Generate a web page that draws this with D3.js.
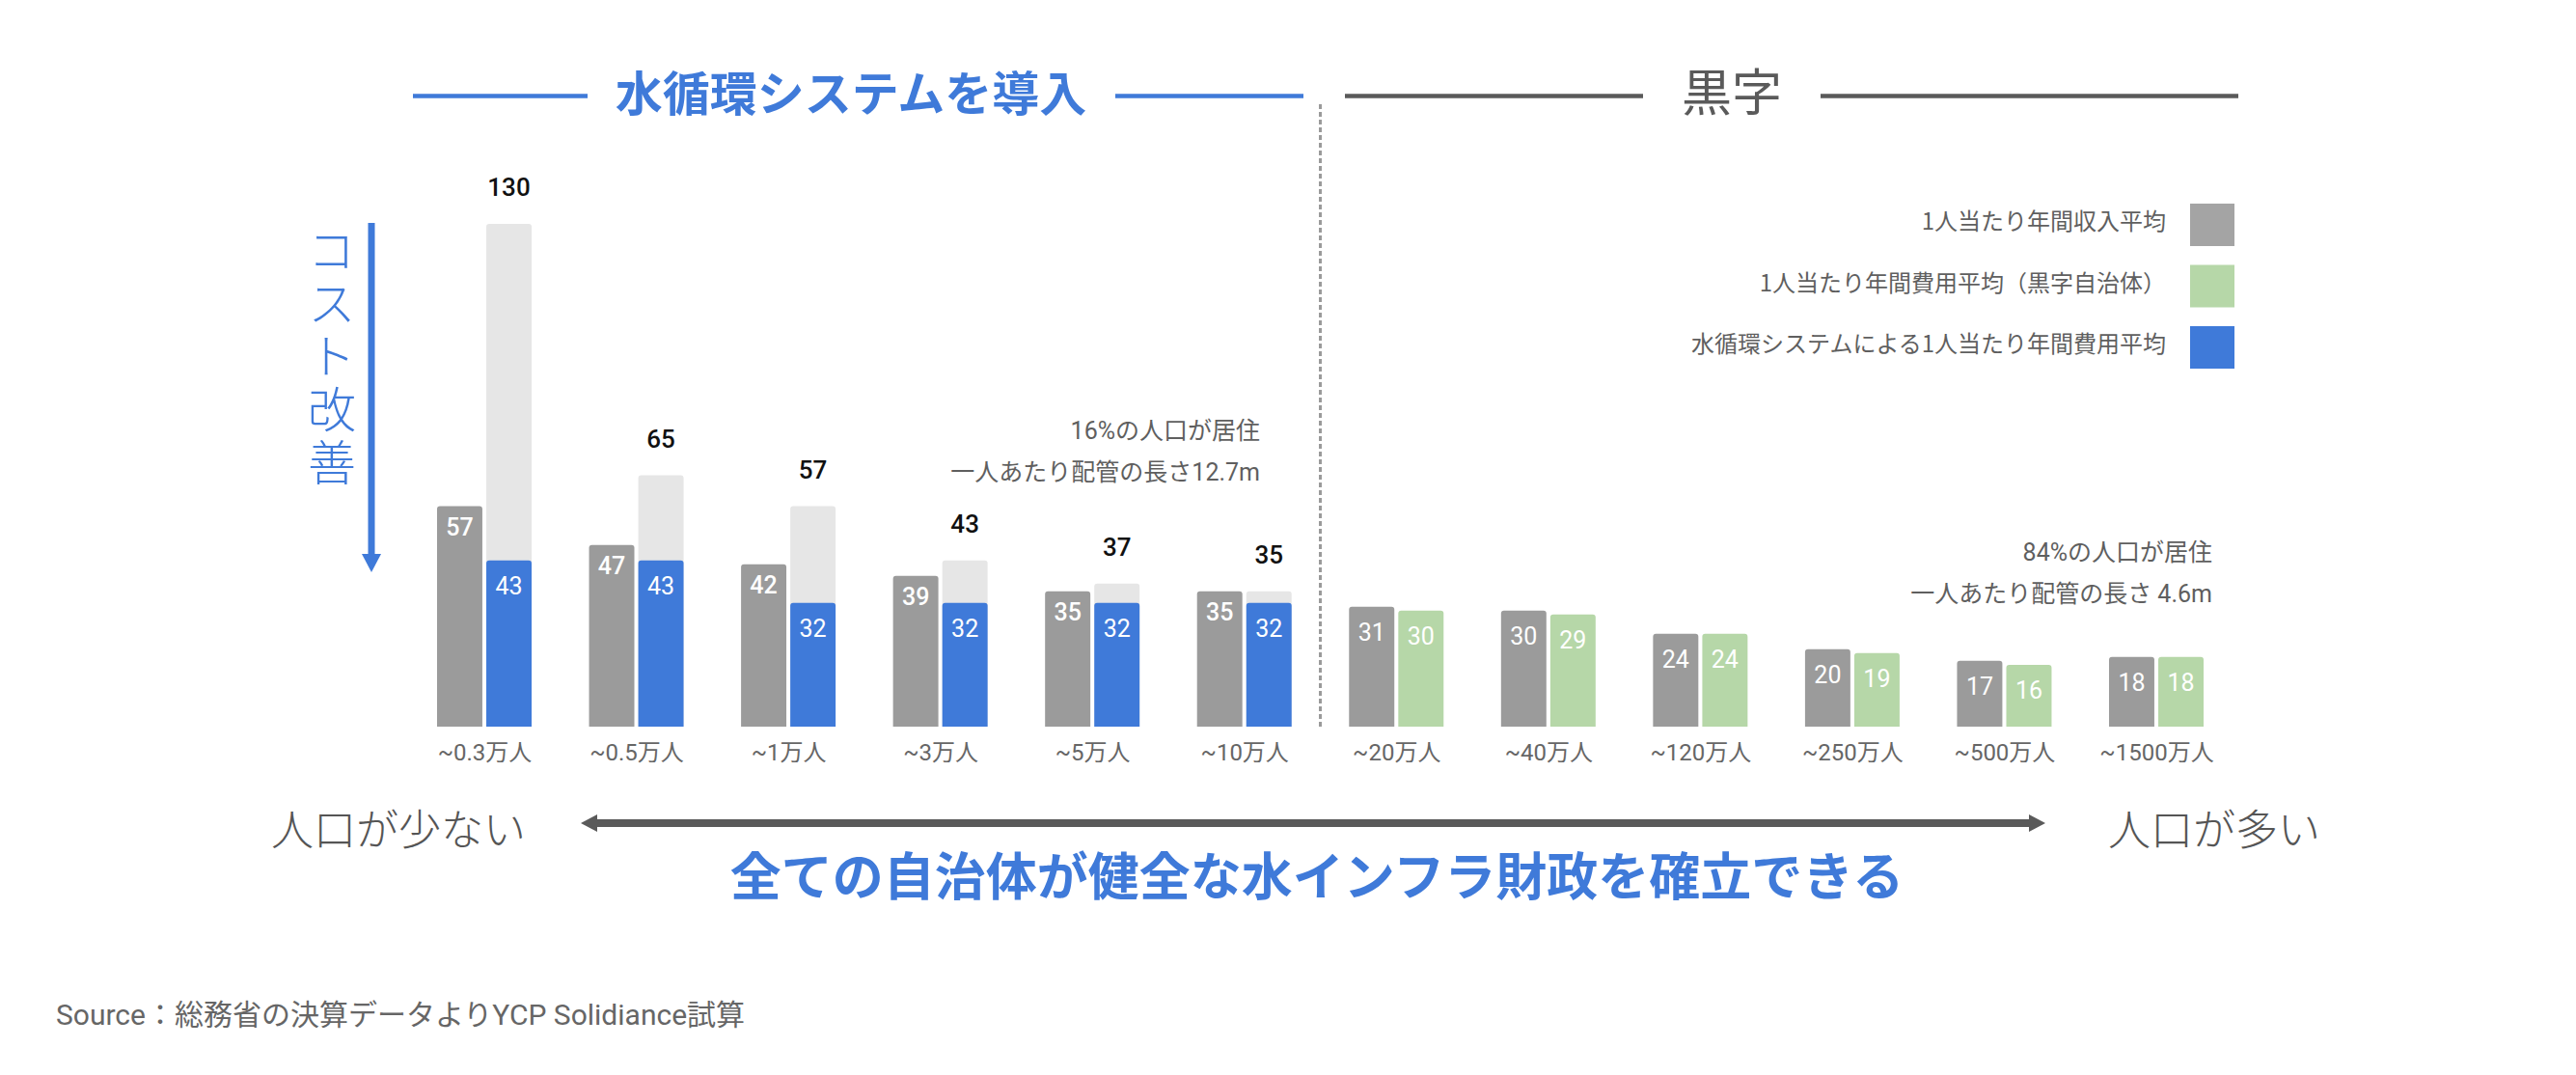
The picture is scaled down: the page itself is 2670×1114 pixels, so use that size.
<!DOCTYPE html>
<html>
<head>
<meta charset="utf-8">
<script src="https://cdn.jsdelivr.net/npm/d3@7"></script>
<style>
  html, body { margin: 0; padding: 0; background: #fff; }
  svg { display: block; font-family: Roboto, "Noto Sans CJK JP", sans-serif; }
</style>
</head>
<body>
<div id="chart"></div>
<script>
// データ
const categories = ["~0.3万人", "~0.5万人", "~1万人", "~3万人", "~5万人", "~10万人",
  "~20万人", "~40万人", "~120万人", "~250万人", "~500万人", "~1500万人"];
const income = [57, 47, 42, 39, 35, 35, 31, 30, 24, 20, 17, 18];       // 1人当たり年間収入平均
const costCurrent = [130, 65, 57, 43, 37, 35];                         // 現状の費用（赤字側）
const costSystem = [43, 43, 32, 32, 32, 32];                           // 水循環システムによる費用
const costSurplus = [30, 29, 24, 19, 16, 18];                          // 黒字自治体の費用
const legendLabels = ["1人当たり年間収入平均", "1人当たり年間費用平均（黒字自治体）", "水循環システムによる1人当たり年間費用平均"];
const sectionTitles = ["水循環システムを導入", "黒字"];
const notesLeft = ["16%の人口が居住", "一人あたり配管の長さ12.7m"];
const notesRight = ["84%の人口が居住", "一人あたり配管の長さ 4.6m"];

const W = 2670, H = 1114;
const colGray = "#9b9b9b", colLight = "#e6e6e6", colBlue = "#3f7ad9", colGreen = "#b6d7a8", colText = "#5f5f5f";

const svg = d3.select("#chart").append("svg")
  .attr("width", W).attr("height", H);

const x = d3.scalePoint().domain(categories).range([502, 2235]);
const sub = d3.scaleBand().domain([0, 1]).range([-49, 49]).paddingInner(0.08);
const y = d3.scaleLinear().domain([0, 130]).range([753, 232]);
const nLeft = costSystem.length;

// 上だけ角丸の棒
function barPath(x0, w, v) {
  const y0 = y(0), y1 = y(v), r = 3;
  return `M${x0},${y0}V${y1 + r}Q${x0},${y1} ${x0 + r},${y1}H${x0 + w - r}Q${x0 + w},${y1} ${x0 + w},${y1 + r}V${y0}Z`;
}

const bw = sub.bandwidth();
const groups = svg.append("g").selectAll("g")
  .data(categories)
  .join("g")
  .attr("transform", d => `translate(${x(d)},0)`);

// 背景の薄い棒（現状の費用）
groups.filter((d, i) => i < nLeft).append("path")
  .attr("fill", colLight)
  .attr("d", (d, i) => barPath(sub(1), bw, costCurrent[i]));

// 収入
groups.append("path")
  .attr("fill", colGray)
  .attr("d", (d, i) => barPath(sub(0), bw, income[i]));

// 費用
groups.append("path")
  .attr("fill", (d, i) => i < nLeft ? colBlue : colGreen)
  .attr("d", (d, i) => barPath(sub(1), bw, i < nLeft ? costSystem[i] : costSurplus[i - nLeft]));

// 棒の中の数値
groups.append("text")
  .attr("x", sub(0) + bw / 2)
  .attr("y", (d, i) => y(income[i]) + (i < nLeft ? 30 : 35))
  .attr("text-anchor", "middle")
  .attr("fill", "#fff")
  .attr("font-size", 25)
  .attr("font-weight", (d, i) => i < nLeft ? 500 : 400)
  .text((d, i) => income[i]);

groups.append("text")
  .attr("x", sub(1) + bw / 2)
  .attr("y", (d, i) => y(i < nLeft ? costSystem[i] : costSurplus[i - nLeft]) + 35)
  .attr("text-anchor", "middle")
  .attr("fill", "#fff")
  .attr("font-size", 25)
  .text((d, i) => i < nLeft ? costSystem[i] : costSurplus[i - nLeft]);

// 現状の費用ラベル
groups.filter((d, i) => i < nLeft).append("text")
  .attr("x", sub(1) + bw / 2)
  .attr("y", (d, i) => y(costCurrent[i]) - 29)
  .attr("text-anchor", "middle")
  .attr("fill", "#111")
  .attr("font-size", 26)
  .attr("font-weight", 500)
  .text((d, i) => costCurrent[i]);

// カテゴリ軸
const xAxis = svg.append("g")
  .attr("transform", `translate(0,${y(0)})`)
  .call(d3.axisBottom(x).tickSize(0).tickPadding(18));
xAxis.select(".domain").remove();
xAxis.selectAll("text")
  .attr("font-size", 24)
  .attr("font-family", "Roboto, 'Noto Sans CJK JP'")
  .attr("fill", "#666");

// 区切りの点線
const xDiv = (x(categories[nLeft - 1]) + x(categories[nLeft])) / 2;
svg.append("line")
  .attr("x1", xDiv).attr("x2", xDiv)
  .attr("y1", 108).attr("y2", y(0))
  .attr("stroke", "#9a9a9a").attr("stroke-width", 3)
  .attr("stroke-dasharray", "5,3");

// セクション見出し
function heading(text, cx, l1, l2, color, weight, size) {
  svg.append("line").attr("x1", l1[0]).attr("x2", l1[1]).attr("y1", 99.5).attr("y2", 99.5)
    .attr("stroke", color).attr("stroke-width", 4.5);
  svg.append("line").attr("x1", l2[0]).attr("x2", l2[1]).attr("y1", 99.5).attr("y2", 99.5)
    .attr("stroke", color).attr("stroke-width", 4.5);
  svg.append("text").attr("x", cx).attr("y", 115)
    .attr("text-anchor", "middle").attr("font-size", size).attr("font-weight", weight)
    .attr("font-family", "'Noto Sans CJK JP'")
    .attr("fill", color).text(text);
}
heading(sectionTitles[0], 882, [428, 609], [1156, 1351], colBlue, 700, 49);
heading(sectionTitles[1], 1795, [1394, 1703], [1887, 2320], "#5a5a5a", 400, 52);

// 凡例
const legendColors = ["#a4a4a4", colGreen, colBlue];
const legend = svg.append("g").selectAll("g")
  .data(legendLabels)
  .join("g")
  .attr("transform", (d, i) => `translate(0,${211 + i * 63.5})`);
legend.append("rect")
  .attr("x", 2270).attr("width", 46).attr("height", 44)
  .attr("fill", (d, i) => legendColors[i]);
legend.append("text")
  .attr("x", 2245).attr("y", 27)
  .attr("text-anchor", "end")
  .attr("font-size", 24)
  .attr("font-family", "'Noto Sans CJK JP'")
  .attr("fill", colText)
  .text(d => d);

// 注記
function notes(lines, xr, y0) {
  svg.append("g").selectAll("text")
    .data(lines)
    .join("text")
    .attr("x", xr)
    .attr("y", (d, i) => y0 + i * 42.5)
    .attr("text-anchor", "end")
    .attr("font-size", 25)
    .attr("fill", colText)
    .text(d => d);
}
notes(notesLeft, 1306, 455);
notes(notesRight, 2293, 581);

// コスト改善の矢印
svg.append("line")
  .attr("x1", 385).attr("x2", 385).attr("y1", 231).attr("y2", 577)
  .attr("stroke", colBlue).attr("stroke-width", 7);
svg.append("path")
  .attr("d", "M375,574L395,574L385,593Z")
  .attr("fill", colBlue);
svg.append("text")
  .attr("x", 344)
  .attr("y", 234)
  .style("writing-mode", "vertical-rl")
  .style("letter-spacing", "5px")
  .attr("font-size", 50)
  .attr("font-family", "'Noto Sans CJK JP'")
  .attr("font-weight", 300)
  .attr("fill", colBlue)
  .text("コスト改善");

// 人口の両矢印
svg.append("line")
  .attr("x1", 616).attr("x2", 2106).attr("y1", 853).attr("y2", 853)
  .attr("stroke", "#5a5a5a").attr("stroke-width", 8);
svg.append("path").attr("d", "M602,853L619,844L619,862Z").attr("fill", "#5a5a5a");
svg.append("path").attr("d", "M2120,853L2103,844L2103,862Z").attr("fill", "#5a5a5a");

svg.append("text").attr("x", 281).attr("y", 876)
  .attr("font-size", 44).attr("font-family", "'Noto Sans CJK JP'")
  .attr("font-weight", 300).attr("fill", "#555").text("人口が少ない");
svg.append("text").attr("x", 2185).attr("y", 876)
  .attr("font-size", 44).attr("font-family", "'Noto Sans CJK JP'")
  .attr("font-weight", 300).attr("fill", "#555").text("人口が多い");

svg.append("text").attr("x", 1365).attr("y", 928)
  .attr("text-anchor", "middle")
  .attr("font-size", 53).attr("font-weight", 700)
  .attr("font-family", "'Noto Sans CJK JP'")
  .attr("fill", colBlue).text("全ての自治体が健全な水インフラ財政を確立できる");

// 出典
svg.append("text").attr("x", 58).attr("y", 1062)
  .attr("font-size", 30).attr("fill", "#666")
  .text("Source：総務省の決算データよりYCP Solidiance試算");
</script>
</body>
</html>
